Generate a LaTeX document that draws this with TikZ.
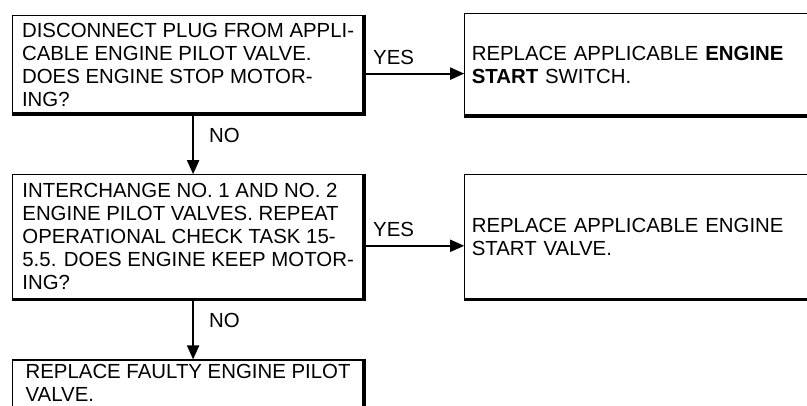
\documentclass[tikz,border=0pt]{standalone}
\usepackage{fontspec}
\setmainfont{Liberation Sans}
\usetikzlibrary{positioning,arrows.meta}

\begin{document}
\begin{tikzpicture}[
      x=1pt, y=1pt,
      font=\fontsize{20.4}{23}\selectfont,
      qbox/.style={draw, line width=1.2pt, align=left, minimum width=351pt,
                   inner xsep=4pt, inner ysep=0pt, minimum height=98pt},
      fixbox/.style={draw, line width=1.2pt, align=left, text width=343pt,
                     inner xsep=7pt, inner ysep=0pt, minimum height=102pt},
      edge/.style={line width=3.5pt},
      dn/.style={-{Triangle[length=14pt, width=12pt]}, line width=2pt},
      lbl/.style={inner sep=0pt},
    ]
    \clip (0,0) rectangle (807,-406);

    % ---------- questions ----------
    \node[qbox, anchor=north west] (q1) at (12,-15)
      {DISCONNECT PLUG FROM APPLI-\\CABLE ENGINE PILOT VALVE.\\
       DOES ENGINE STOP MOTOR-\\ING?};
    \node[qbox, below=60pt of q1, minimum height=124pt] (q2)
      {INTERCHANGE NO. 1 AND NO. 2\\ENGINE PILOT VALVES. REPEAT\\
       OPERATIONAL CHECK TASK 15-\\5.5. DOES ENGINE KEEP MOTOR-\\ING?};
    \node[qbox, below=60pt of q2, minimum height=80pt, text depth=35pt] (q3)
      {REPLACE FAULTY ENGINE PILOT\\VALVE.};

    % ---------- fixes ----------
    \node[fixbox, right=100pt of q1] (f1)
      {REPLACE APPLICABLE \textbf{ENGINE}\\\textbf{START} SWITCH.};
    \node[fixbox, right=100pt of q2, minimum height=124pt] (f2)
      {REPLACE APPLICABLE ENGINE\\START VALVE.};

    % ---------- heavy edges ----------
    \foreach \b in {q1,q2,q3,f1,f2}
      \draw[edge] (\b.south west) -- (\b.south east) -- (\b.north east);

    % ---------- flow ----------
    \coordinate (y1) at ([yshift=-9pt]q1.east);
    \coordinate (y2) at ([yshift=-9pt]q2.east);
    \draw[dn] (y1) -- (y1 -| f1.west)
      node[lbl, pos=0, anchor=south west, xshift=8pt, yshift=8pt] {YES};
    \draw[dn] (y2) -- (y2 -| f2.west)
      node[lbl, pos=0, anchor=south west, xshift=8pt, yshift=8pt] {YES};
    \draw[dn] ([xshift=5pt]q1.south) -- ([xshift=5pt]q2.north)
      node[lbl, pos=0.36, anchor=west, xshift=15pt] {NO};
    \draw[dn] ([xshift=5pt]q2.south) -- ([xshift=5pt]q3.north)
      node[lbl, pos=0.35, anchor=west, xshift=15pt] {NO};

  \end{tikzpicture}
\end{document}
